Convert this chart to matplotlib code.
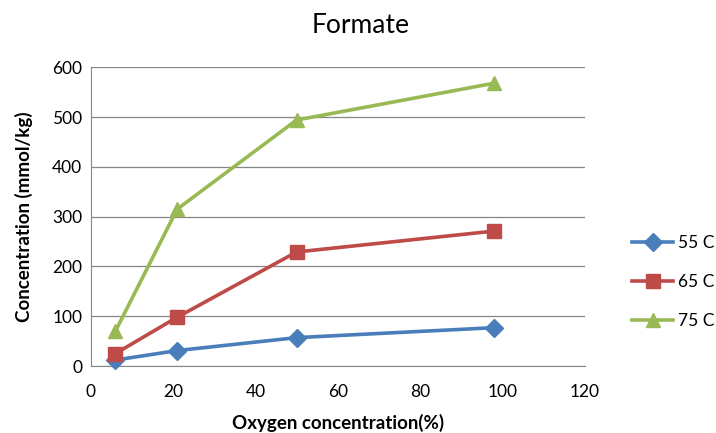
import matplotlib.pyplot as plt

# Formate concentration vs oxygen level at three temperatures
oxygen = [6, 21, 50, 98]
c55 = [12, 31, 57, 77]
c65 = [25, 98, 229, 271]
c75 = [70, 315, 494, 568]
labels = ["55 C", "65 C", "75 C"]
colors = ["#4A7EBB", "#BE4B48", "#98B954"]
markers = ["D", "s", "^"]
sizes = [9, 10, 10]

plt.rcParams['font.family'] = ['Lato', 'DejaVu Sans']

fig = plt.figure(figsize=(7.16, 4.33), dpi=100)
ax = fig.add_axes([0.1267, 0.1547, 0.690, 0.690])

for ys, lab, col, mk, ms in zip([c55, c65, c75], labels, colors, markers, sizes):
    ax.plot(oxygen, ys, color=col, lw=2.6, marker=mk, markersize=ms,
            label=lab, clip_on=False, zorder=3)

ax.set_xlim(0, 120)
ax.set_ylim(0, 600)
ax.set_xticks(range(0, 121, 20))
ax.set_yticks(range(0, 601, 100))
ax.grid(axis='y', color='#868686', lw=0.9)
ax.set_axisbelow(True)
for s in ['top', 'right']:
    ax.spines[s].set_visible(False)
for s in ['left', 'bottom']:
    ax.spines[s].set_color('#868686')
ax.tick_params(length=0, labelsize=12.5)
ax.tick_params(axis='x', pad=13)
ax.tick_params(axis='y', pad=6)

# title centred on the whole chart, not the plot area
fig.text(0.503, 0.94, "Formate", fontsize=19, ha='center', va='center')
ax.set_xlabel("Oxygen concentration(%)", fontsize=13.5, fontweight='bold', labelpad=10)
ax.set_ylabel("Concentration (mmol/kg)", fontsize=13.5, fontweight='bold', labelpad=14)

ax.legend(loc='center left', bbox_to_anchor=(1.095, 0.281), frameon=False,
          fontsize=12.5, handlelength=2.4, handletextpad=0.25, labelspacing=1.35,
          borderpad=0, borderaxespad=0)

fig.savefig("out.png", dpi=100)
